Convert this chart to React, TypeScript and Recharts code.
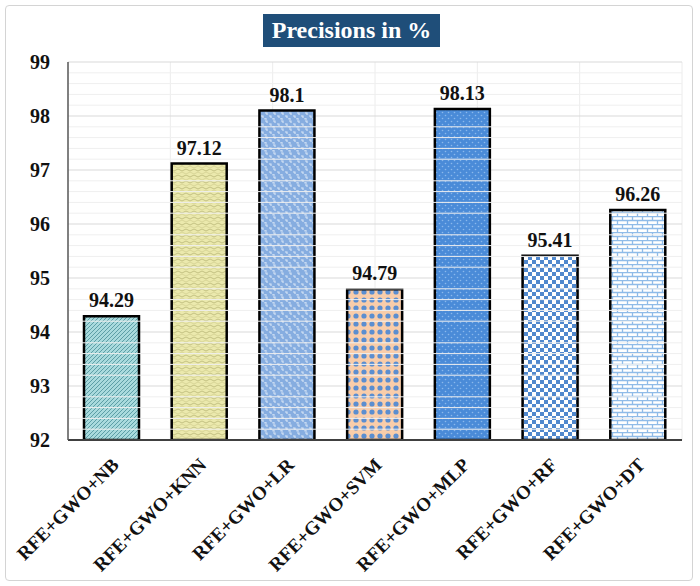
import React from "react";
import { BarChart, Bar, XAxis, YAxis, CartesianGrid, LabelList, ReferenceLine } from "recharts";

const categories = ["RFE+GWO+NB", "RFE+GWO+KNN", "RFE+GWO+LR", "RFE+GWO+SVM", "RFE+GWO+MLP", "RFE+GWO+RF", "RFE+GWO+DT"];
const precisions = [94.29, 97.12, 98.1, 94.79, 98.13, 95.41, 96.26];
const yTicks = [92, 93, 94, 95, 96, 97, 98, 99];
const minorTicks = [92.2, 92.4, 92.6, 92.8, 93.2, 93.4, 93.6, 93.8, 94.2, 94.4, 94.6, 94.8, 95.2, 95.4, 95.6, 95.8, 96.2, 96.4, 96.6, 96.8, 97.2, 97.4, 97.6, 97.8, 98.2, 98.4, 98.6, 98.8];
const boundaryTicks = [0, 1, 2, 3, 4, 5, 6, 7];
const patternIds = ["pNB", "pKNN", "pLR", "pSVM", "pMLP", "pRF", "pDT"];

const data = categories.map((c, i) => ({ name: c, value: precisions[i], fill: `url(#${patternIds[i]})` }));

const FONT = "'Liberation Serif', 'Times New Roman', serif";

const Patterns = () => (
  <svg width={0} height={0} style={{ position: "absolute" }}>
    <defs>
      <pattern id="pNB" width={4} height={4} patternUnits="userSpaceOnUse">
        <rect width={4} height={4} fill="#a9dadd" />
        <path d="M-1,1 l2,-2 M0,4 l4,-4 M3,5 l2,-2" stroke="#5d9ea6" strokeWidth={1} />
      </pattern>
      <pattern id="pKNN" width={8} height={6} patternUnits="userSpaceOnUse">
        <rect width={8} height={6} fill="#ebe9ad" />
        <path d="M0,2 q2,-2 4,0 t4,0" stroke="#c4c283" strokeWidth={1} fill="none" />
        <path d="M0,5 q2,2 4,0 t4,0" stroke="#d3d192" strokeWidth={0.8} fill="none" />
      </pattern>
      <pattern id="pLR" width={8} height={8} patternUnits="userSpaceOnUse">
        <rect width={8} height={8} fill="#86ade0" />
        <path d="M1,1 l2,0 l0,2 M5,4 l2,0 l0,2 M1,6 l0,1 l2,0" stroke="#d8e6f7" strokeWidth={1.1} fill="none" />
      </pattern>
      <pattern id="pSVM" width={8} height={8} patternUnits="userSpaceOnUse">
        <rect width={8} height={8} fill="#f9cdaa" />
        <circle cx={4} cy={4} r={2.6} fill="#5b8ed0" />
      </pattern>
      <pattern id="pMLP" width={6} height={6} patternUnits="userSpaceOnUse">
        <rect width={6} height={6} fill="#4a8bd8" />
        <circle cx={1.5} cy={1.5} r={0.8} fill="#8ab8ec" />
        <circle cx={4.5} cy={4.5} r={0.8} fill="#8ab8ec" />
      </pattern>
      <pattern id="pRF" width={8} height={8} patternUnits="userSpaceOnUse">
        <rect width={8} height={8} fill="#ffffff" />
        <rect x={0} y={0} width={4} height={4} fill="#5088cd" />
        <rect x={4} y={4} width={4} height={4} fill="#5088cd" />
      </pattern>
      <pattern id="pDT" width={10} height={8} patternUnits="userSpaceOnUse">
        <rect width={10} height={8} fill="#ffffff" />
        <path d="M0,0.5 H10 M0,4.5 H10 M2.5,0 V4 M7.5,4 V8" stroke="#8fbbe8" strokeWidth={1.3} />
      </pattern>
    </defs>
  </svg>
);

const XTick = (props: any) => {
  const { x, y, payload } = props;
  return (
    <g transform={`translate(${x + 8},${y + 18})`}>
      <text x={0} y={0} textAnchor="end" transform="rotate(-45)" fontFamily={FONT} fontWeight="bold" fontSize={19} fill="#111">
        {payload.value}
      </text>
    </g>
  );
};

export default function App() {
  return (
    <div style={{ position: "relative", width: 700, height: 586, background: "#fff" }}>
      <style>{`body{margin:0}`}</style>
      <Patterns />
      <div style={{ position: "absolute", left: 5, top: 5, width: 688, height: 576, border: "1.5px solid #d4d4d4", borderRadius: 4, boxSizing: "border-box" }} />
      <div style={{ position: "absolute", left: 263, top: 14, width: 177, height: 33, background: "#1f4e79", color: "#fff", fontFamily: FONT, fontWeight: "bold", fontSize: 24, textAlign: "center", lineHeight: "33px" }}>
        Precisions in %
      </div>
      <div style={{ position: "absolute", left: 0, top: 0 }}>
        <BarChart width={700} height={586} data={data} margin={{ top: 62, right: 18, bottom: 16, left: 18 }}>
          <XAxis xAxisId="g" type="number" domain={[0, 7]} ticks={boundaryTicks} hide />
          <CartesianGrid xAxisId="g" horizontal={false} stroke="#ececec" strokeWidth={1} />
          <CartesianGrid vertical={false} stroke="#d9d9d9" strokeWidth={1} />
          {minorTicks.map((t) => (
            <ReferenceLine key={t} y={t} stroke="#efefef" strokeWidth={1} ifOverflow="hidden" />
          ))}
          <XAxis dataKey="name" interval={0} height={130} tick={<XTick />} tickLine={false} axisLine={{ stroke: "#404040", strokeWidth: 2 }} />
          <YAxis domain={[92, 99]} ticks={yTicks} width={50} tickLine={false} axisLine={{ stroke: "#595959", strokeWidth: 1.5 }}
            tick={{ fontFamily: FONT, fontWeight: "bold", fontSize: 20, fill: "#111" }} tickMargin={12} allowDataOverflow />
          <Bar dataKey="value" barSize={55} stroke="#000" strokeWidth={2.5} isAnimationActive={false}>
            <LabelList dataKey="value" position="top" offset={9} style={{ fontFamily: FONT, fontWeight: "bold", fontSize: 20, fill: "#111" }} />
          </Bar>
        </BarChart>
      </div>
    </div>
  );
}
